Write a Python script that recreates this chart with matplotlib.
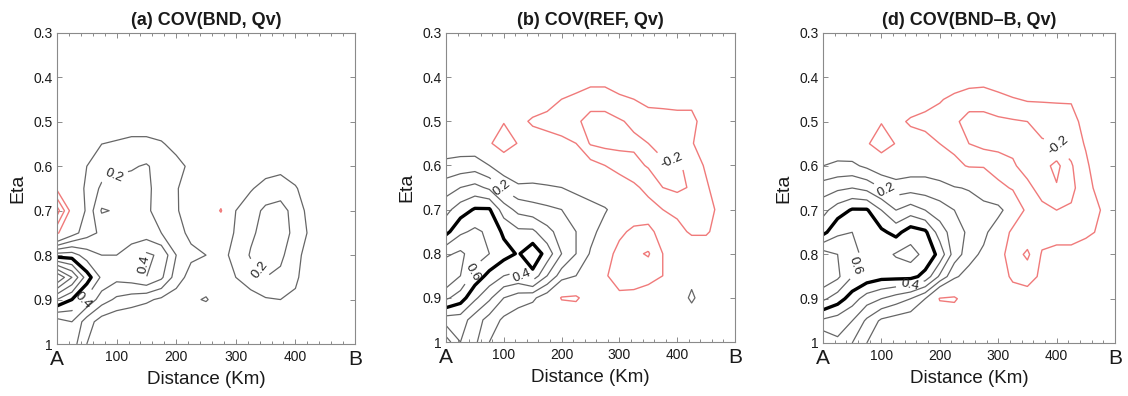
import numpy as np
import matplotlib
matplotlib.use('Agg')
import matplotlib.pyplot as plt
from matplotlib.ticker import MultipleLocator

plt.rcParams['font.family'] = ['Liberation Sans', 'DejaVu Sans']

# grid of the cross-section (km along A-B, eta levels)
distance = [0, 25, 50, 75, 100, 125, 150, 175, 200, 225, 250,
            275, 300, 325, 350, 375, 400, 425, 450, 475, 500]
eta = [0.30, 0.35, 0.40, 0.45, 0.50, 0.55, 0.60, 0.65,
       0.70, 0.75, 0.80, 0.85, 0.90, 0.95, 1.00]

# (a) COV(BND, Qv)
cov_bnd = [
    [0]*21,
    [0]*21,
    [0]*21,
    [0]*21,
    [0, 0, 0.01, 0.04, 0.05, 0.06, 0.06, 0.04, 0.01, 0, 0, 0, 0, 0, 0, 0, 0, 0, 0, 0, 0],
    [0, 0, 0.08, 0.10, 0.11, 0.12, 0.12, 0.11, 0.07, 0.02, 0, 0, 0, 0, 0, 0, 0, 0, 0, 0, 0],
    [0, 0.02, 0.10, 0.15, 0.17, 0.19, 0.21, 0.16, 0.13, 0.08, 0, 0, 0, 0.02, 0.05, 0.07, 0.04, 0, 0, 0, 0],
    [-0.08, 0.02, 0.12, 0.22, 0.25, 0.24, 0.22, 0.16, 0.11, 0.04, 0, 0, 0.03, 0.09, 0.14, 0.15, 0.11, 0.04, 0, 0, 0],
    [-0.35, -0.05, 0.12, 0.31, 0.29, 0.27, 0.22, 0.15, 0.11, 0.05, 0.01, -0.11, 0.10, 0.16, 0.22, 0.24, 0.16, 0.06, 0, 0, 0],
    [-0.12, 0.05, 0.16, 0.22, 0.25, 0.25, 0.25, 0.20, 0.13, 0.08, 0.03, 0.04, 0.11, 0.18, 0.24, 0.25, 0.17, 0.08, 0.01, 0, 0],
    [0.45, 0.45, 0.35, 0.30, 0.30, 0.35, 0.42, 0.38, 0.20, 0.12, 0.10, 0.08, 0.12, 0.21, 0.25, 0.22, 0.14, 0.04, 0, 0, 0],
    [1.00, 0.80, 0.55, 0.38, 0.33, 0.35, 0.40, 0.32, 0.15, 0.06, 0.03, 0.05, 0.10, 0.15, 0.20, 0.18, 0.12, 0.03, 0, 0, 0],
    [0.60, 0.50, 0.38, 0.25, 0.18, 0.15, 0.12, 0.08, 0.05, 0.08, 0.11, 0.04, 0.03, 0.06, 0.09, 0.10, 0.08, 0.02, 0, 0, 0],
    [0.25, 0.30, 0.15, 0.05, 0.02, 0.01, 0, 0, 0, 0, 0, 0, 0, 0, 0, 0, 0, 0, 0, 0, 0],
    [0.30, 0.25, 0.10, 0.02, 0, 0, 0, 0, 0, 0, 0, 0, 0, 0, 0, 0, 0, 0, 0, 0, 0],
]

# (b) COV(REF, Qv)
cov_ref = [
    [0]*21,
    [0]*21,
    [0, 0, 0, 0, 0, 0, 0, 0, 0, -0.02, -0.06, -0.06, -0.03, 0, 0, 0, 0, 0, 0, 0, 0],
    [0, 0, 0, 0, 0, 0, -0.01, -0.05, -0.10, -0.13, -0.15, -0.15, -0.12, -0.10, -0.07, -0.07, -0.07, -0.07, -0.02, 0, 0],
    [0, 0, 0, 0, -0.09, -0.06, -0.12, -0.14, -0.16, -0.18, -0.24, -0.24, -0.21, -0.18, -0.15, -0.14, -0.13, -0.13, -0.05, 0, 0],
    [0.03, 0.04, 0.03, -0.08, -0.19, -0.09, -0.03, -0.05, -0.07, -0.10, -0.21, -0.23, -0.23, -0.22, -0.20, -0.16, -0.13, -0.11, -0.03, 0, 0],
    [0.13, 0.14, 0.15, 0.10, 0.03, 0.00, 0.02, 0.02, 0.00, -0.03, -0.06, -0.10, -0.14, -0.17, -0.21, -0.22, -0.21, -0.18, -0.08, 0, 0],
    [0.25, 0.30, 0.33, 0.28, 0.18, 0.12, 0.12, 0.11, 0.10, 0.07, 0.04, 0.01, -0.04, -0.08, -0.13, -0.20, -0.22, -0.19, -0.12, -0.02, 0],
    [0.37, 0.45, 0.51, 0.51, 0.35, 0.27, 0.24, 0.22, 0.20, 0.17, 0.14, 0.11, 0.05, -0.04, -0.06, -0.10, -0.13, -0.14, -0.13, -0.08, 0],
    [0.47, 0.58, 0.62, 0.58, 0.48, 0.42, 0.42, 0.33, 0.26, 0.20, 0.13, 0.06, -0.08, -0.12, -0.12, -0.07, -0.06, -0.12, -0.12, -0.04, 0],
    [0.68, 0.72, 0.65, 0.60, 0.54, 0.49, 0.57, 0.46, 0.30, 0.20, 0.09, -0.06, -0.13, -0.18, -0.21, -0.10, -0.02, 0, 0, 0, 0],
    [0.80, 0.70, 0.56, 0.47, 0.40, 0.38, 0.47, 0.30, 0.15, 0.10, 0.03, -0.09, -0.14, -0.15, -0.14, -0.10, 0, 0.05, 0, 0, 0],
    [0.62, 0.55, 0.42, 0.32, 0.20, 0.15, 0.12, 0.04, -0.11, -0.12, -0.03, 0, -0.08, -0.07, -0.04, 0, 0, 0.13, 0, 0, 0],
    [0.35, 0.35, 0.25, 0.16, 0.08, 0.04, 0.02, 0, 0, 0, 0, 0, 0, 0, 0, 0, 0, 0, 0, 0, 0],
    [0.15, 0.30, 0.22, 0.10, 0.03, 0, 0, 0, 0, 0, 0, 0, 0, 0, 0, 0, 0, 0, 0, 0, 0],
]

# (d) COV(BND-B, Qv)
cov_bndb = [
    [0]*21,
    [0]*21,
    [0, 0, 0, 0, 0, 0, 0, 0, 0, -0.02, -0.05, -0.06, -0.04, 0, 0, 0, 0, 0, 0, 0, 0],
    [0, 0, 0, 0, 0, 0, -0.01, -0.05, -0.09, -0.13, -0.15, -0.15, -0.13, -0.11, -0.09, -0.09, -0.09, -0.09, -0.03, 0, 0],
    [0, 0, 0, 0, -0.09, -0.06, -0.12, -0.14, -0.15, -0.18, -0.24, -0.24, -0.22, -0.21, -0.20, -0.17, -0.15, -0.14, -0.06, 0, 0],
    [0.02, 0.03, 0.02, -0.08, -0.19, -0.09, -0.03, -0.05, -0.10, -0.13, -0.20, -0.23, -0.23, -0.22, -0.22, -0.21, -0.20, -0.16, -0.09, -0.02, 0],
    [0.10, 0.12, 0.12, 0.08, 0.03, 0.02, 0.04, 0.05, 0.04, -0.07, -0.11, -0.11, -0.15, -0.19, -0.23, -0.26, -0.33, -0.21, -0.12, -0.03, 0],
    [0.25, 0.28, 0.30, 0.27, 0.20, 0.15, 0.16, 0.15, 0.13, 0.11, 0.09, 0.03, -0.07, -0.11, -0.18, -0.23, -0.29, -0.22, -0.15, -0.05, 0],
    [0.37, 0.45, 0.51, 0.51, 0.40, 0.30, 0.35, 0.30, 0.25, 0.20, 0.17, 0.15, 0.15, 0.00, -0.13, -0.18, -0.20, -0.19, -0.15, -0.10, 0],
    [0.47, 0.58, 0.60, 0.58, 0.52, 0.47, 0.55, 0.52, 0.35, 0.25, 0.18, 0.14, 0.00, -0.13, -0.13, -0.14, -0.14, -0.14, -0.13, -0.08, 0],
    [0.75, 0.70, 0.62, 0.58, 0.56, 0.61, 0.64, 0.57, 0.47, 0.25, 0.15, 0.07, -0.06, -0.15, -0.22, -0.09, -0.07, -0.07, -0.02, 0, 0],
    [0.78, 0.72, 0.60, 0.56, 0.53, 0.53, 0.53, 0.47, 0.28, 0.12, 0.05, 0.02, -0.04, -0.12, -0.14, -0.08, 0, 0, 0, 0, 0],
    [0.62, 0.55, 0.45, 0.35, 0.30, 0.25, 0.20, 0.10, -0.11, -0.12, -0.02, 0, -0.02, -0.04, -0.05, 0, 0, 0, 0, 0, 0],
    [0.38, 0.35, 0.30, 0.18, 0.08, 0.05, 0.03, 0.01, 0, 0, 0, 0, 0, 0, 0, 0, 0, 0, 0, 0, 0],
    [0.20, 0.28, 0.20, 0.10, 0.02, 0, 0, 0, 0, 0, 0, 0, 0, 0, 0, 0, 0, 0, 0, 0, 0],
]

titles = ['(a) COV(BND, Qv)', '(b) COV(REF, Qv)', '(d) COV(BND\u2013B, Qv)']
fields = [cov_bnd, cov_ref, cov_bndb]

contour_levels = [-0.3, -0.2, -0.1, 0.1, 0.2, 0.3, 0.4, 0.5, 0.6, 0.7, 0.8, 0.9, 1.0]

# contour labels: (level, x, eta)
label_spots = [
    [(0.2, 94, 0.615), (0.4, 150, 0.82), (0.2, 352, 0.82), (0.4, 42, 0.9)],
    [(0.2, 93, 0.656), (0.6, 52, 0.845), (0.4, 122, 0.864), (-0.2, 392, 0.58)],
    [(0.2, 107, 0.66), (0.6, 92, 0.842), (0.4, 149, 0.868), (-0.2, 403, 0.555)],
]

xtick_vals = [0, 100, 200, 300, 400, 500]
xtick_labels = ['A', '100', '200', '300', '400', 'B']
ytick_vals = [0.3, 0.4, 0.5, 0.6, 0.7, 0.8, 0.9, 1.0]
ytick_labels = ['0.3', '0.4', '0.5', '0.6', '0.7', '0.8', '0.9', '1']

rects = [[57/1128, 52/396, 298/1128, 311/396],
         [446/1128, 54/396, 289/1128, 309/396],
         [823/1128, 53/396, 292/1128, 310/396]]


def level_style(lev):
    if lev < 0:
        return '#f07a7a', 1.0
    if abs(lev - 0.5) < 1e-6:
        return 'black', 2.4
    return '#666666', 0.9


fig = plt.figure(figsize=(11.28, 3.96), dpi=100)

for rect, field, title, spots in zip(rects, fields, titles, label_spots):
    ax = fig.add_axes(rect)
    Z = np.array(field, dtype=float)
    sets = {}
    for lev in contour_levels:
        col, lw = level_style(lev)
        sets[round(lev, 1)] = ax.contour(distance, eta, Z, levels=[lev], colors=col,
                                         linewidths=lw, linestyles='solid')
    for lev, x, y in spots:
        ax.clabel(sets[round(lev, 1)], manual=[(x, y)], inline=True, fmt='%.1f',
                  fontsize=9.5, colors='#222222')

    ax.set_xlim(0, 500)
    ax.set_ylim(1.0, 0.3)
    ax.set_xticks(xtick_vals)
    ax.set_xticklabels(xtick_labels)
    ax.xaxis.set_minor_locator(MultipleLocator(20))
    ax.set_yticks(ytick_vals)
    ax.set_yticklabels(ytick_labels)
    ax.tick_params(which='both', direction='in', top=True, right=True, width=0.6,
                   color='#777777')
    ax.tick_params(which='major', length=3.5, labelsize=10, labelcolor='#1a1a1a', pad=3)
    ax.tick_params(which='minor', length=2)
    ax.tick_params(axis='x', which='major', pad=4)
    for i, lab in enumerate(ax.get_xticklabels()):
        if i in (0, len(xtick_vals) - 1):
            lab.set_fontsize(15)
    for sp in ax.spines.values():
        sp.set_color('#8a8a8a')
        sp.set_linewidth(0.8)
    ax.set_title(title, fontsize=13, fontweight='bold', color='#1a1a1a', pad=6)
    ax.set_xlabel('Distance (Km)', fontsize=13.5, color='#1a1a1a', labelpad=2)
    ax.set_ylabel('Eta', fontsize=14, color='#1a1a1a', labelpad=5)

fig.savefig('out.png', dpi=100)
